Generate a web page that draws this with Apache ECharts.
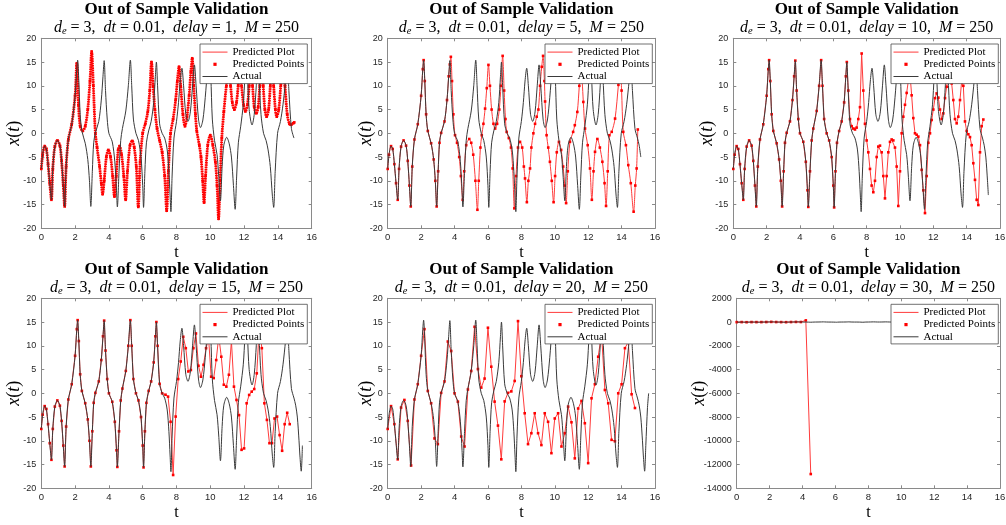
<!DOCTYPE html>
<html><head><meta charset="utf-8">
<script src="https://cdn.jsdelivr.net/npm/echarts/dist/echarts.min.js"></script>
<style>html,body{margin:0;padding:0;background:#fff}#c{width:1006px;height:525px}</style>
</head><body><div id="c"></div>
<script>
// ---------------- DATA ----------------
const DELAYS = [1, 5, 10, 15, 20, 30];
const X_TICKS = [0, 16, 2];
const Y_TICKS_A = [-20, 20, 5];
const Y_TICKS_B = [-14000, 2000, 2000];

// actual x(t) trajectory (shared by all panels)
const ACTUAL = [[0,-7.5],[0.08,-4.5],[0.2,-2.7],[0.3,-3.3],[0.4,-6.5],[0.5,-10.5],[0.6,-14],[0.68,-7.5],[0.8,-2.8],[0.95,-1.5],[1.1,-2.6],[1.2,-5.8],[1.3,-11],[1.38,-15.4],[1.47,-7],[1.6,-1.3],[1.8,1.9],[2.0,7.9],[2.1,13.5],[2.15,15.4],[2.22,11],[2.3,4],[2.4,0.5],[2.6,-2.1],[2.75,-5.5],[2.85,-10],[2.93,-15.4],[3.02,-8],[3.1,-2],[3.2,0.1],[3.4,2.5],[3.55,7],[3.65,12],[3.72,15.3],[3.8,9],[3.9,3],[4.0,0],[4.2,-1.8],[4.35,-6],[4.45,-12],[4.5,-15.5],[4.6,-8],[4.7,-1.5],[4.8,1],[5.0,4.7],[5.15,10],[5.27,15.4],[5.35,10],[5.45,3],[5.6,0],[5.75,-1.5],[5.9,-5],[6.0,-11],[6.05,-15.6],[6.13,-8],[6.22,-2],[6.35,0.5],[6.5,2.5],[6.65,6.5],[6.75,12],[6.81,15],[6.88,10],[7.0,2],[7.15,0],[7.3,-1],[7.45,-3.5],[7.55,-8],[7.62,-13],[7.67,-16.5],[7.74,-9],[7.85,-1],[8.0,2.5],[8.12,6.5],[8.22,11],[8.32,13.7],[8.42,10],[8.55,4],[8.68,2.5],[8.82,4.5],[8.95,10],[9.06,14.4],[9.16,10],[9.3,3],[9.42,1.2],[9.56,2.8],[9.7,7.5],[9.85,14],[9.95,16.5],[10.03,12],[10.12,3],[10.25,-1.5],[10.4,-4.5],[10.5,-9],[10.6,-14.2],[10.7,-7],[10.8,-2.5],[10.97,-0.85],[11.12,-2.2],[11.25,-5],[11.37,-11],[11.47,-16],[11.56,-9],[11.66,-2],[11.8,1.5],[11.95,6],[12.05,12],[12.12,16],[12.2,12],[12.3,5],[12.47,1.75],[12.6,4],[12.72,10],[12.8,15.5],[12.88,12],[13.0,4],[13.15,0],[13.3,-1.5],[13.42,-3.5],[13.55,-7],[13.67,-13],[13.75,-15.6],[13.84,-8],[13.98,0],[14.15,2.5],[14.3,6],[14.45,11],[14.55,15.5],[14.65,9],[14.8,1],[14.95,-1],[15.05,-2.5],[15.15,-5],[15.25,-10],[15.3,-13],[15.38,-16.4],[15.45,-11],[15.55,-3],[15.62,0]];
const ACTUAL_END = [15.0, 15.15, 15.3, 15.45, 15.62, 15.5];

// time up to which each prediction coincides with the actual curve
const PRED_FOLLOW_UNTIL = [2.0, 3.65, 6.81, 7.2];

const PRED_D1_TAIL = [[2.1,14.7],[2.2,6],[2.3,1.5],[2.45,0.5],[2.6,1.5],[2.75,5],[2.88,11],[2.98,17.2],[3.08,10],[3.2,0],[3.3,-3],[3.45,-7],[3.55,-10.5],[3.63,-12.8],[3.72,-10],[3.85,-5],[3.97,-3.5],[4.1,-5],[4.22,-9],[4.33,-13.3],[4.43,-9],[4.55,-3.5],[4.63,-2.7],[4.75,-4.5],[4.88,-9],[4.99,-14],[5.1,-8],[5.25,-2.5],[5.38,-1.6],[5.5,-3],[5.62,-7],[5.74,-15.5],[5.85,-6],[6.0,0],[6.15,2],[6.3,4.5],[6.42,9],[6.52,15],[6.62,10],[6.72,5],[6.85,1],[7.0,-1.5],[7.15,-4],[7.3,-9],[7.42,-16.3],[7.52,-8],[7.65,0],[7.8,3],[7.95,7],[8.05,11],[8.15,14],[8.25,10],[8.38,4],[8.5,1.5],[8.62,3.5],[8.75,8],[8.85,13],[8.93,15.8],[9.02,10],[9.12,4],[9.2,0.5],[9.35,-2.5],[9.45,-5],[9.55,-10],[9.63,-14.6],[9.72,-9],[9.85,-2.5],[10.0,-0.4],[10.15,-2.5],[10.3,-6],[10.4,-11],[10.49,-18],[10.58,-10],[10.68,-1],[10.8,4.5],[10.95,10],[11.08,13.5],[11.2,10],[11.3,6.5],[11.42,5],[11.55,6.5],[11.65,10],[11.75,14],[11.85,10],[11.97,6],[12.08,4.6],[12.2,6],[12.3,10],[12.4,14.5],[12.5,10],[12.6,5.5],[12.72,4.2],[12.83,5.5],[12.93,10],[13.03,14.5],[13.13,10],[13.23,5],[13.33,3.5],[13.45,5],[13.55,10],[13.65,15],[13.75,10],[13.85,5],[13.93,3.5],[14.05,5],[14.17,10],[14.3,15.5],[14.42,10],[14.55,4],[14.68,2],[14.78,1.8],[14.9,2.1],[14.97,2.3]];

const PRED_D5_TAIL = [[3.72,14.5],[3.78,16.1],[3.85,11],[3.93,4],[4.03,-0.4],[4.15,-2],[4.28,-5],[4.38,-9],[4.49,-14],[4.58,-8],[4.7,-2.5],[4.88,-1.2],[5.0,-2],[5.12,-4.5],[5.25,-10],[5.37,-16.1],[5.45,-10],[5.55,-3],[5.63,-0.4],[5.73,2],[5.83,5.2],[5.93,9.5],[6.03,14.4],[6.12,10],[6.22,5],[6.33,2],[6.43,1],[6.55,2],[6.68,5],[6.78,10],[6.88,16.3],[6.97,9],[7.05,3],[7.12,0.3],[7.25,-1],[7.38,-3],[7.48,-7.4],[7.58,-15.8],[7.68,-9],[7.8,-3],[7.92,-1.8],[8.05,-3],[8.15,-7],[8.22,-9.5],[8.33,-14.5],[8.42,-10],[8.52,-7.4],[8.6,-3],[8.72,0],[8.82,2],[8.92,3.5],[9.02,5],[9.12,10],[9.22,14],[9.3,16.3],[9.38,11],[9.42,6.7],[9.51,-0.4],[9.61,-3],[9.71,-6],[9.82,-10],[9.93,-14.5],[10.02,-9],[10.12,-4],[10.25,-1.8],[10.38,-3.5],[10.5,-7],[10.6,-11],[10.68,-14.7],[10.78,-8],[10.91,-1.8],[11.1,0.3],[11.2,1.7],[11.35,4.5],[11.47,10],[11.56,14.5],[11.64,11],[11.71,6.6],[11.81,1],[11.97,-2.5],[12.11,-7.4],[12.22,-14],[12.32,-8],[12.41,-3.9],[12.55,-1.2],[12.7,-3],[12.85,-6],[12.98,-10.5],[13.07,-15.3],[13.17,-8],[13.27,-0.4],[13.41,0.3],[13.61,3.1],[13.81,10.2],[13.92,14.5],[14.0,9],[14.1,0.3],[14.26,-2.5],[14.4,-6.7],[14.55,-10.5],[14.72,-16.5],[14.82,-11],[14.9,-7.4],[14.97,0.8]];

const PRED_D10_TAIL = [[6.9,9],[7.0,3],[7.1,1.5],[7.2,1],[7.3,0.8],[7.4,1.2],[7.5,3],[7.6,5.5],[7.7,16.8],[7.8,9],[7.9,2],[8.0,-1.5],[8.1,-4],[8.2,-7.5],[8.3,-11],[8.4,-12.4],[8.5,-10],[8.6,-5],[8.7,-2.8],[8.8,-2.6],[8.9,-4],[9.0,-9],[9.1,-13.7],[9.2,-9],[9.3,-4],[9.4,-1.8],[9.5,-1.3],[9.6,-1.5],[9.7,-3],[9.8,-7],[9.9,-15.3],[10.0,-8],[10.1,0],[10.2,3.5],[10.3,6],[10.4,8.5],[10.5,11],[10.6,12.5],[10.7,8],[10.8,3.2],[10.9,0],[11.0,-0.3],[11.1,-0.7],[11.2,-2.5],[11.3,-7.7],[11.4,-12],[11.5,-16.8],[11.6,-9],[11.7,-2],[11.8,0],[11.9,2.8],[12.0,5],[12.1,7.4],[12.2,8.4],[12.3,7.5],[12.4,5],[12.5,3],[12.6,4.2],[12.7,7.4],[12.8,9.8],[12.9,13],[13.0,13.5],[13.1,10.5],[13.2,7],[13.3,3],[13.4,2.1],[13.5,3.5],[13.6,7],[13.7,11],[13.8,10],[13.9,2.5],[14.0,0.5],[14.1,-0.2],[14.2,-0.8],[14.3,-2.5],[14.4,-6.3],[14.5,-9.8],[14.6,-14],[14.7,-15.1],[14.8,-4],[14.9,1.5],[15.0,2.9]];

const PRED_D15_TAIL = [[7.35,-0.3],[7.5,-0.7],[7.65,-6],[7.8,-17.2],[7.95,-4.9],[8.1,3],[8.25,6.7],[8.4,11.9],[8.55,9.5],[8.7,4.6],[8.85,4.9],[9.0,9.5],[9.15,12.6],[9.3,5.8],[9.45,3.5],[9.6,6],[9.75,9.5],[9.9,11.5],[10.05,3.5],[10.2,3.2],[10.35,7],[10.5,12],[10.65,7.7],[10.8,1.8],[10.95,1.4],[11.1,3.9],[11.25,11],[11.4,1.4],[11.55,-1.4],[11.7,-4.6],[11.85,-11.9],[12.0,-11.6],[12.15,-2.1],[12.3,-0.35],[12.45,0.35],[12.6,0.9],[12.75,4.2],[12.9,14],[13.05,9.5],[13.2,-2.1],[13.35,-5.6],[13.5,-10.5],[13.65,-10.5],[13.8,-5.3],[13.95,-4.9],[14.1,-8.8],[14.25,-12.1],[14.4,-6.5],[14.55,-4.1],[14.7,-6.5]];

const PRED_D20 = [[0,-7.5],[0.2,-2.7],[0.4,-6.5],[0.6,-13.9],[0.8,-3],[1.0,-1.4],[1.2,-5.8],[1.4,-15.2],[1.6,-1.3],[1.8,1.9],[2.0,7.9],[2.2,13.5],[2.4,0.5],[2.6,-2.1],[2.8,-9.5],[3.0,-10.7],[3.2,0.1],[3.4,2.5],[3.6,10.9],[3.8,8.9],[4.0,0],[4.2,-1.75],[4.4,-9.1],[4.6,-11.2],[4.8,0.8],[5.0,4.7],[5.2,14.0],[5.4,5.1],[5.6,1.2],[5.8,3.1],[6.0,13.8],[6.2,5.6],[6.4,-1.75],[6.6,-6.8],[6.8,-13.9],[7.0,-1.7],[7.2,0.1],[7.4,0.4],[7.6,2.6],[7.8,15.2],[8.0,3.6],[8.2,-4.2],[8.4,-10.7],[8.6,-8.4],[8.8,-4.2],[9.0,-8.4],[9.2,-10.9],[9.4,-4.2],[9.6,-6],[9.8,-12.6],[10.0,-5.3],[10.2,-4.2],[10.4,-11.2],[10.6,-8.4],[10.8,-2.8],[11.0,-6.1],[11.2,-13.7],[11.4,-3.2],[11.6,-1.6],[11.8,-6.3],[12.0,-14.7],[12.2,-1.05],[12.4,1.9],[12.6,7.7],[12.8,12.5],[13.0,0.7],[13.2,-2.1],[13.4,-9.8],[13.6,-10.1],[13.8,0],[14.0,1.9],[14.2,9.5],[14.4,10.8],[14.6,-0.2],[14.8,-3.1]];

const PRED_D30 = [[0,-7.5],[0.3,-3.3],[0.6,-14],[0.9,-1.6],[1.2,-5.8],[1.5,-4],[1.8,1.9],[2.1,14.5],[2.4,0.5],[2.7,-4.5],[3.0,-11],[3.3,1],[3.6,10],[3.9,3],[4.2,140],[4.5,-12800]];

// --------------- BUILD ----------------
function follow(until) { return ACTUAL.filter(p => p[0] <= until); }
const PRED = [
  follow(PRED_FOLLOW_UNTIL[0]).concat(PRED_D1_TAIL),
  follow(PRED_FOLLOW_UNTIL[1]).concat(PRED_D5_TAIL),
  follow(PRED_FOLLOW_UNTIL[2]).concat(PRED_D10_TAIL),
  follow(PRED_FOLLOW_UNTIL[3]).concat(PRED_D15_TAIL),
  PRED_D20,
  PRED_D30
];

const GRIDS = [
  {left: 41.3, top: 38.3, width: 270.4, height: 190},
  {left: 387.7, top: 38.3, width: 267.3, height: 190},
  {left: 733.3, top: 38.3, width: 266.7, height: 190},
  {left: 41.3, top: 298.3, width: 270.4, height: 190},
  {left: 387.7, top: 298.3, width: 267.3, height: 190},
  {left: 736.7, top: 298.3, width: 263.3, height: 190}
];
const LEGEND_POS = [[200, 44], [545, 44], [891, 44], [200, 304.3], [545, 304.3], [891, 304.3]];
const YNAME_GAP = [18, 12, 17, 18, 12, 28];

const AX = '#8a8a8a', LB = '#262626';
const SERIF = '"Liberation Serif", "Times New Roman", serif';
const SANS = '"Liberation Sans", Arial, sans-serif';

const grid = [], xAxis = [], yAxis = [], series = [], title = [], legend = [];

GRIDS.forEach((g, i) => {
  grid.push(Object.assign({outerBoundsMode: 'none', containLabel: false, show: false}, g));
  const yt = i === 5 ? Y_TICKS_B : Y_TICKS_A;
  const lineCommon = {show: true, onZero: false, lineStyle: {color: AX, width: 1}};
  const tickCommon = {show: true, inside: true, length: 3, lineStyle: {color: AX, width: 1}};
  xAxis.push({
    type: 'value', gridIndex: i, min: X_TICKS[0], max: X_TICKS[1], interval: X_TICKS[2], position: 'bottom',
    axisLine: lineCommon, axisTick: tickCommon, splitLine: {show: false},
    axisLabel: {color: LB, fontSize: 9.5, fontFamily: SANS, margin: 4, formatter: v => String(v)},
    name: 't', nameLocation: 'middle', nameGap: 16, nameMoveOverlap: false,
    nameTextStyle: {fontFamily: SERIF, fontSize: 16, color: '#000'}
  });
  xAxis.push({
    type: 'value', gridIndex: i, min: X_TICKS[0], max: X_TICKS[1], interval: X_TICKS[2], position: 'top',
    axisLine: lineCommon, axisTick: tickCommon, splitLine: {show: false}, axisLabel: {show: false}
  });
  yAxis.push({
    type: 'value', gridIndex: i, min: yt[0], max: yt[1], interval: yt[2], position: 'left',
    axisLine: lineCommon, axisTick: tickCommon, splitLine: {show: false},
    axisLabel: {color: LB, fontSize: 9, fontFamily: SANS, margin: 5, formatter: v => String(v)},
    name: '{i|x}{r|(}{i|t}{r|)}', nameLocation: 'middle', nameGap: YNAME_GAP[i], nameMoveOverlap: false,
    nameTextStyle: {fontFamily: SERIF, fontSize: 18, color: '#000',
      rich: {i: {fontFamily: SERIF, fontSize: 18, fontStyle: 'italic', color: '#000'},
             r: {fontFamily: SERIF, fontSize: 18, color: '#000'}}}
  });
  yAxis.push({
    type: 'value', gridIndex: i, min: yt[0], max: yt[1], interval: yt[2], position: 'right',
    axisLine: lineCommon, axisTick: tickCommon, splitLine: {show: false}, axisLabel: {show: false}
  });

  const xi = 2 * i, yi = 2 * i;
  const pred = PRED[i];
  series.push({
    name: 'Predicted Plot', type: 'line', xAxisIndex: xi, yAxisIndex: yi, data: pred,
    symbol: 'none', smooth: i <= 1 ? 0.3 : false, lineStyle: {color: '#ff3b3b', width: 1},
    itemStyle: {color: '#ff3b3b'}, z: 2, silent: true
  });
  if (i === 0) {
    series.push({
      name: '', type: 'line', xAxisIndex: xi, yAxisIndex: yi, data: pred,
      symbol: 'none', smooth: 0.3, lineStyle: {color: '#ff0000', width: 2.8, type: [1.6, 0.7]},
      z: 3, silent: true
    });
  }
  series.push({
    name: 'Predicted Points', type: 'line', xAxisIndex: xi, yAxisIndex: yi, data: pred,
    symbol: 'rect', symbolSize: 2.6, showSymbol: true, showAllSymbol: true,
    lineStyle: {width: 0, opacity: 0}, itemStyle: {color: '#ff0000'}, z: 3, silent: true
  });
  series.push({
    name: 'Actual', type: 'line', xAxisIndex: xi, yAxisIndex: yi,
    data: ACTUAL.filter(p => p[0] <= ACTUAL_END[i] + 1e-9),
    symbol: 'none', smooth: 0.3, lineStyle: {color: '#3a3a3a', width: 1}, itemStyle: {color: '#3a3a3a'},
    z: 4, silent: true
  });

  title.push({
    left: g.left + g.width / 2, top: g.top - 37.3, textAlign: 'center', padding: 0, itemGap: 1.5,
    text: 'Out of Sample Validation',
    textStyle: {fontFamily: SERIF, fontWeight: 'bold', fontSize: 17, color: '#000', lineHeight: 17},
    subtext: '{i|d}{s|e}{r| = 3,  }{i|dt}{r| = 0.01,  }{i|delay}{r| = ' + DELAYS[i] + ',  }{i|M}{r| = 250}',
    subtextStyle: {fontFamily: SERIF, fontSize: 16, color: '#000', lineHeight: 17,
      rich: {
        i: {fontFamily: SERIF, fontSize: 16, fontStyle: 'italic', color: '#000', lineHeight: 17},
        r: {fontFamily: SERIF, fontSize: 16, color: '#000', lineHeight: 17},
        s: {fontFamily: SERIF, fontSize: 10.5, fontStyle: 'italic', color: '#000', lineHeight: 7, verticalAlign: 'bottom'}
      }}
  });

  legend.push({
    orient: 'vertical', align: 'left', left: LEGEND_POS[i][0], top: LEGEND_POS[i][1],
    itemWidth: 25, itemHeight: 4, itemGap: 0, padding: [2, 3, 1, 2],
    borderColor: '#4d4d4d', borderWidth: 0.8, backgroundColor: '#ffffff', borderRadius: 0,
    selectedMode: false, z: 10,
    textStyle: {fontFamily: SERIF, fontSize: 11, color: '#000', lineHeight: 12.2},
    data: [
      {name: 'Predicted Plot', itemStyle: {opacity: 0}, lineStyle: {width: 1}},
      {name: 'Predicted Points', lineStyle: {opacity: 0, width: 0}},
      {name: 'Actual', itemStyle: {opacity: 0}, lineStyle: {width: 1}}
    ]
  });
});

const chart = echarts.init(document.getElementById('c'), null, {renderer: 'canvas', width: 1006, height: 525});
chart.setOption({
  animation: false,
  backgroundColor: '#ffffff',
  title, legend, grid, xAxis, yAxis, series,
  tooltip: {show: false}
});
</script>
</body></html>
